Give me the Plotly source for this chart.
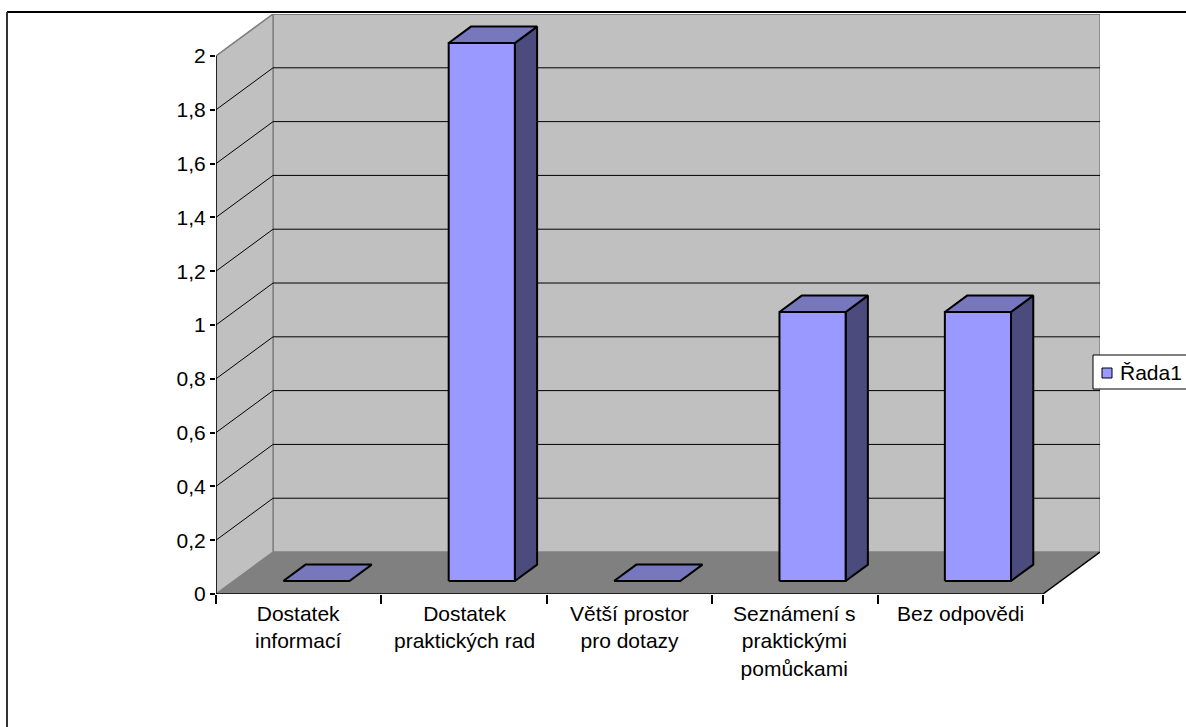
import plotly.graph_objects as go

# Data
categories = [
    "Dostatek<br>informací",
    "Dostatek<br>praktických rad",
    "Větší prostor<br>pro dotazy",
    "Seznámení s<br>praktickými<br>pomůckami",
    "Bez odpovědi",
]
values = [0, 2, 0, 1, 1]
series_name = "Řada1"
y_tickvals = [0, 0.2, 0.4, 0.6, 0.8, 1.0, 1.2, 1.4, 1.6, 1.8, 2.0]
y_ticktext = ["0", "0,2", "0,4", "0,6", "0,8", "1", "1,2", "1,4", "1,6", "1,8", "2"]

# 3D projection settings (oblique view), in axis units
n = len(categories)
y_max = 2.0
depth_x = 0.345      # horizontal shift of the back plane, in category units
depth_y = 0.156      # vertical shift of the back plane, in value units
bar_w = 0.4          # bar width, in category units
f_front, f_back = 0.31, 0.70   # bar depth position (fraction of floor depth)

FONT = "Liberation Sans, Arial, sans-serif"
FSIZE = 21
FRONT = "#9999FF"
TOP = "#7777BE"
SIDE = "#4B4B7E"
WALL = "#C0C0C0"
FLOOR = "#808080"

fig = go.Figure()


def poly(xs, ys, fill, line_color="rgba(0,0,0,0)", width=0):
    fig.add_trace(go.Scatter(
        x=list(xs) + [xs[0]], y=list(ys) + [ys[0]], mode="lines", fill="toself",
        fillcolor=fill, line=dict(color=line_color, width=width),
        hoverinfo="skip", showlegend=False))


def seg(x0, y0, x1, y1, color="black", width=1):
    fig.add_trace(go.Scatter(
        x=[x0, x1], y=[y0, y1], mode="lines",
        line=dict(color=color, width=width), hoverinfo="skip", showlegend=False))


# Back wall
poly([depth_x, n + depth_x, n + depth_x, depth_x],
     [depth_y, depth_y, y_max + depth_y, y_max + depth_y], WALL, "#808080", 1.5)
# Left wall
poly([0, depth_x, depth_x, 0],
     [0, depth_y, y_max + depth_y, y_max], WALL, "#808080", 1.5)
# Floor
poly([0, n, n + depth_x, depth_x], [0, 0, depth_y, depth_y], FLOOR)

# Gridlines on the back and left walls
for v in y_tickvals[1:]:
    c = "#6a6a6a" if v == y_max else "black"
    seg(depth_x, v + depth_y, n + depth_x, v + depth_y, c, 1)
    seg(0, v, depth_x, v + depth_y, "#808080" if v == y_max else "black", 1)

# Floor edges
seg(0, 0, n, 0, "black", 1.5)
seg(n, 0, n + depth_x, depth_y, "black", 1.5)

# Bars
for i, v in enumerate(values):
    xl = i + 0.5 - bar_w / 2
    xr = i + 0.5 + bar_w / 2
    fx, fy = f_front * depth_x, f_front * depth_y
    bx, by = f_back * depth_x, f_back * depth_y
    if v > 0:
        # right side face
        poly([xr + fx, xr + bx, xr + bx, xr + fx],
             [fy, by, v + by, v + fy], SIDE, "black", 2)
        # front face
        poly([xl + fx, xr + fx, xr + fx, xl + fx],
             [fy, fy, v + fy, v + fy], FRONT, "black", 2)
    # top face
    poly([xl + fx, xr + fx, xr + bx, xl + bx],
         [v + fy, v + fy, v + by, v + by], TOP, "black", 2)

# Value axis line
seg(0, 0, 0, y_max, "black", 1.5)

# Category labels
for i, lab in enumerate(categories):
    fig.add_annotation(x=i + 0.5, y=0, xref="x", yref="y", text=lab,
                       showarrow=False, yanchor="top", yshift=-6,
                       font=dict(family=FONT, size=FSIZE, color="black"))

# Pixel -> paper helpers for the frame and legend box
L, T = 216, 14
W, H = 1100 - 216, 594 - 14


def px(x):
    return (x - L) / W


def py(y):
    return (594 - y) / H


# Outer frame of the chart area
fig.add_shape(type="line", xref="paper", yref="paper",
              x0=px(7), x1=px(1200), y0=py(12), y1=py(12),
              line=dict(color="black", width=2))
fig.add_shape(type="line", xref="paper", yref="paper",
              x0=px(7), x1=px(7), y0=py(12), y1=py(740),
              line=dict(color="#333333", width=2))

# Legend box with series key
fig.add_shape(type="rect", xref="paper", yref="paper",
              x0=px(1093), x1=px(1200), y0=py(389), y1=py(355),
              line=dict(color="black", width=1), fillcolor="white")
fig.add_shape(type="rect", xref="paper", yref="paper",
              x0=px(1102), x1=px(1112), y0=py(378), y1=py(368),
              line=dict(color="black", width=1), fillcolor=FRONT)
fig.add_annotation(x=px(1118), y=py(372), xref="paper", yref="paper",
                   text=series_name, showarrow=False, xanchor="left",
                   yanchor="middle",
                   font=dict(family=FONT, size=FSIZE, color="black"))

fig.update_layout(
    width=1186, height=727,
    margin=dict(l=L, r=1186 - 1100, t=T, b=727 - 594, pad=0, autoexpand=False),
    paper_bgcolor="white", plot_bgcolor="white",
    font=dict(family=FONT, size=FSIZE, color="black"),
    xaxis=dict(range=[0, n + depth_x], showgrid=False, zeroline=False,
               showline=False, tickvals=list(range(n + 1)),
               ticktext=[""] * (n + 1), ticks="outside", ticklen=9,
               tickwidth=1.5, tickcolor="black", fixedrange=True,
               automargin=False),
    yaxis=dict(range=[0, y_max + depth_y], showgrid=False, zeroline=False,
               showline=False, tickvals=y_tickvals, ticktext=y_ticktext,
               ticks="outside", ticklen=5, tickwidth=1.5, tickcolor="black",
               fixedrange=True, automargin=False),
    showlegend=False,
)

fig.write_html("out.html")
